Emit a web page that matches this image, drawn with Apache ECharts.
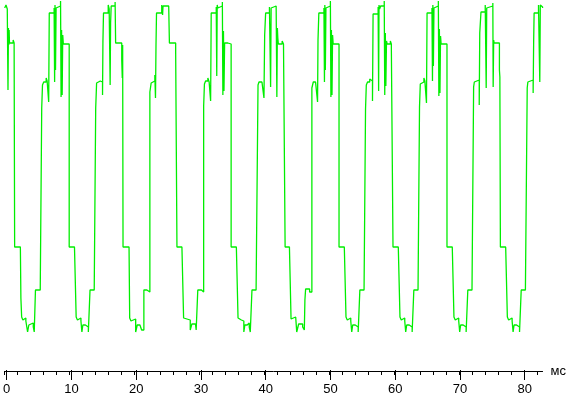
<!DOCTYPE html>
<html>
<head>
<meta charset="utf-8">
<script src="https://cdn.jsdelivr.net/npm/echarts@6/dist/echarts.min.js"></script>
<style>html,body{margin:0;padding:0;background:#fff}#c{width:569px;height:396px}</style>
</head>
<body>
<div id="c"></div>
<script>
// [time in ms, level (arbitrary units)] — each point: level holds from this time on
const cycle0 = [[0,363],[0.2,366],[0.4,362],[0.51,281],[0.58,343],[0.63,326],[0.69,341],[0.74,328],[1.31,331],[1.46,328],[1.54,124],[2.43,122],[2.51,73],[2.63,54],[2.82,51],[3.05,53],[3.28,50],[3.55,39],[3.74,46],[4.05,48],[4.43,44],[4.58,39],[4.77,81],[5.51,79]];
const cycle1 = [[5.74,263],[5.86,286],[6.05,289],[6.43,293],[6.58,290],[6.82,269],[6.91,358],[7.66,363],[7.74,289],[7.8,366],[7.88,301],[7.97,363],[8.12,365],[8.66,370],[8.74,274],[8.82,341],[8.91,276],[9.0,336],[9.09,327],[9.58,329],[9.74,327],[10.0,124],[10.82,122],[11.08,54],[11.28,51],[11.58,53],[11.82,50],[11.97,39],[12.12,46],[12.51,48],[12.82,44],[12.97,39],[13.23,81],[13.88,79]];
const cycle2 = [[14.11,263],[14.25,288],[14.35,290],[14.82,292],[14.97,289],[15.17,276],[15.23,329],[15.32,358],[16.05,366],[16.2,362],[16.35,286],[16.42,348],[16.51,365],[17.12,369],[17.2,328],[18.15,311],[18.23,293],[18.29,326],[18.35,124],[19.28,122],[19.38,53],[19.58,50],[19.89,52],[20.31,39],[20.55,46],[20.97,45],[21.23,41],[21.58,81],[22.05,79]];
const cycle3 = [[22.51,279],[22.71,288],[22.82,290],[23.28,296],[23.38,273],[23.46,326],[23.54,358],[24.35,366],[24.48,356],[24.55,365],[25.43,366],[25.54,328],[26.51,319],[26.71,124],[27.48,122],[27.74,53],[27.97,51],[28.77,41],[29.02,47],[29.58,45],[29.69,41],[29.94,81],[30.51,79]];
const cycle4 = [[30.85,265],[30.97,287],[31.15,290],[31.5,293],[31.7,289],[31.93,270],[32.02,358],[32.8,364],[32.88,295],[32.95,366],[33.05,363],[33.2,365],[33.75,369],[33.83,276],[33.92,340],[34.0,280],[34.1,328],[34.6,330],[34.8,327],[35.11,124],[35.92,122],[36.18,53],[36.4,51],[36.7,53],[36.93,50],[37.08,39],[37.24,46],[37.6,48],[37.92,44],[38.08,39],[38.34,81],[38.98,79]];
const cycle5 = [[39.28,286],[39.43,289],[39.89,290],[40.2,273],[40.31,336],[40.46,358],[41.05,364],[41.23,284],[41.31,363],[41.51,365],[42.09,367],[42.2,274],[42.28,343],[42.35,333],[42.43,327],[43.02,330],[43.23,327],[43.48,124],[44.15,122],[44.4,52],[44.66,54],[45.12,52],[45.28,39],[45.58,47],[46.2,44],[46.46,41],[46.55,71],[46.66,82],[47.28,79]];
const cycle6 = [[47.63,283],[47.74,286],[47.85,289],[48.2,290],[48.51,269],[48.58,331],[48.71,358],[49.5,363],[49.58,289],[49.64,366],[49.72,301],[49.81,363],[49.96,365],[50.5,370],[50.58,274],[50.66,341],[50.75,276],[50.84,336],[50.93,327],[51.42,329],[51.58,327],[51.84,124],[52.66,122],[52.92,54],[53.12,51],[53.42,53],[53.66,50],[53.81,39],[53.96,46],[54.35,48],[54.66,44],[54.81,39],[55.07,81],[55.72,79]];
const cycle7 = [[55.95,262],[56.07,286],[56.26,289],[56.6,292],[56.8,290],[57.03,270],[57.12,357],[57.9,364],[57.98,280],[58.04,366],[58.13,362],[58.3,365],[58.85,370],[58.93,276],[59.02,338],[59.1,285],[59.2,330],[59.3,327],[59.8,330],[59.95,327],[60.21,124],[61.03,122],[61.29,54],[61.49,51],[61.79,53],[62.03,50],[62.18,39],[62.33,46],[62.72,48],[63.03,44],[63.18,39],[63.44,81],[64.09,79]];
const cycle8 = [[64.32,264],[64.44,287],[64.63,289],[65.0,293],[65.15,290],[65.4,268],[65.49,358],[66.25,363],[66.33,290],[66.39,366],[66.47,305],[66.56,363],[66.7,365],[67.24,370],[67.32,275],[67.4,342],[67.49,278],[67.58,335],[67.67,327],[68.16,329],[68.32,327],[68.58,124],[69.4,122],[69.66,54],[69.86,51],[70.16,53],[70.4,50],[70.55,39],[70.7,46],[71.09,48],[71.4,44],[71.55,39],[71.81,81],[72.46,79]];
const cycle9 = [[72.71,284],[72.82,289],[72.92,291],[73.58,266],[73.66,338],[73.85,359],[74.51,366],[74.66,283],[74.74,363],[74.97,365],[75.69,368],[75.74,284],[75.82,331],[75.89,328],[76.71,301],[76.78,294],[76.86,124],[77.68,122],[77.94,54],[78.14,51],[78.44,53],[78.68,50],[78.83,39],[78.98,46],[79.37,48],[79.68,44],[79.83,39],[80.09,81],[80.74,79]];
const cycle10 = [[81.02,283],[81.12,289],[81.28,291],[81.94,278],[82.02,330],[82.09,358],[82.77,366],[82.97,289],[83.05,366],[83.17,364],[83.4,363]];

const timeUnit = 'мс';
const xMax = 83.4;       // end of the time axis, ms
const majorStep = 10;    // labelled ticks, ms
const minorStep = 2;     // small ticks, ms
const levelMax = 371;

const seriesData = [].concat(cycle0, cycle1, cycle2, cycle3, cycle4, cycle5, cycle6, cycle7, cycle8, cycle9, cycle10);

const pxPerMs = 6.5;
const left = 4.7;
const font = '"Liberation Sans Narrow", "Liberation Sans", Arial, sans-serif';

const chart = echarts.init(document.getElementById('c'), null, {renderer: 'canvas'});
chart.setOption({
  animation: false,
  backgroundColor: '#ffffff',
  grid: [
    {left: left, top: 0, bottom: 25, width: pxPerMs * xMax, containLabel: false},
    {left: left, top: 0, bottom: 25, width: pxPerMs * 80, containLabel: false},
    {left: left, top: 0, bottom: 25, width: pxPerMs * 82, containLabel: false}
  ],
  xAxis: [
    {type: 'value', gridIndex: 0, min: 0, max: xMax,
     axisLine: {show: true, lineStyle: {color: '#000', width: 1}},
     axisTick: {show: false}, axisLabel: {show: false}, splitLine: {show: false},
     name: timeUnit, nameLocation: 'end', nameGap: 8,
     nameTextStyle: {color: '#000', fontSize: 13, fontFamily: font}},
    {type: 'value', gridIndex: 1, min: 0, max: 80, interval: majorStep,
     axisLine: {show: false},
     axisTick: {show: true, length: 10, lineStyle: {color: '#000', width: 1}},
     axisLabel: {show: true, margin: 13, color: '#000', fontSize: 13, fontFamily: font},
     splitLine: {show: false}},
    {type: 'value', gridIndex: 2, min: 0, max: 82, interval: minorStep,
     axisLine: {show: false},
     axisTick: {show: true, length: 4, lineStyle: {color: '#000', width: 1}},
     axisLabel: {show: false}, splitLine: {show: false}}
  ],
  yAxis: [
    {type: 'value', gridIndex: 0, min: 0, max: levelMax, show: false},
    {type: 'value', gridIndex: 1, min: 0, max: levelMax, show: false},
    {type: 'value', gridIndex: 2, min: 0, max: levelMax, show: false}
  ],
  series: [{
    type: 'line', xAxisIndex: 0, yAxisIndex: 0,
    data: seriesData, step: 'end', showSymbol: false, symbol: 'none',
    lineStyle: {color: '#00ee00', width: 1.3}
  }]
});
</script>
</body>
</html>
